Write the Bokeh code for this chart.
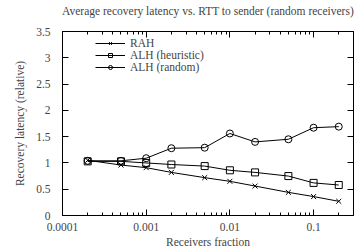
from bokeh.plotting import figure
from bokeh.models import (FixedTicker, CustomJSTickFormatter, LinearAxis, LogAxis,
                          Legend, Range1d)
from bokeh.embed import file_html
from bokeh.resources import INLINE

fractions = [0.0002, 0.0005, 0.001, 0.002, 0.005, 0.01, 0.02, 0.05, 0.1, 0.2]
rah = [1.05, 0.96, 0.91, 0.82, 0.72, 0.65, 0.56, 0.44, 0.36, 0.27]
alh_heur = [1.03, 1.03, 1.00, 0.97, 0.94, 0.86, 0.82, 0.75, 0.62, 0.58]
alh_rand = [1.04, 1.04, 1.09, 1.28, 1.29, 1.56, 1.40, 1.45, 1.67, 1.69]

x_major = [0.0001, 0.001, 0.01, 0.1]
y_major = [0, 0.5, 1, 1.5, 2, 2.5, 3, 3.5]
title_text = "Average recovery latency vs. RTT to sender (random receivers)"

FONT = "Liberation Serif"
FS = "11.5px"

x_minor = [m * d for d in x_major for m in range(2, 10) if m * d <= 0.3]

p = figure(frame_width=291, frame_height=184, x_axis_type="log",
           x_range=Range1d(0.0001, 0.3), y_range=Range1d(0, 3.5),
           output_backend="svg", toolbar_location=None,
           min_border_left=62, min_border_right=4, min_border_top=31,
           min_border_bottom=0)

p.grid.visible = False
p.outline_line_color = "black"
p.outline_line_width = 1
p.background_fill_color = "white"
p.border_fill_color = "white"

xt = FixedTicker(ticks=x_major, minor_ticks=x_minor)
yt = FixedTicker(ticks=y_major)
fmt = CustomJSTickFormatter(code="return tick.toString();")
blank = CustomJSTickFormatter(code="return '';")

def style(ax, labels=True):
    ax.axis_line_color = "black"
    ax.major_tick_line_color = "black"
    ax.minor_tick_line_color = "black"
    ax.major_tick_in = 6
    ax.major_tick_out = 0
    ax.minor_tick_in = 3
    ax.minor_tick_out = 0
    ax.major_label_text_font = FONT
    ax.axis_label_text_font = FONT
    ax.axis_label_text_font_style = "normal"
    ax.axis_label_text_font_size = FS
    if labels:
        ax.major_label_text_font_size = FS
    else:
        ax.major_label_text_font_size = "1px"
        ax.major_label_standoff = 0

xa = p.xaxis[0]
xa.ticker = xt
xa.formatter = fmt
xa.axis_label = "Receivers fraction"
style(xa)
xa.major_label_standoff = 7
xa.axis_label_standoff = 2

ya = p.yaxis[0]
ya.ticker = yt
ya.formatter = fmt
ya.axis_label = "Recovery latency (relative)"
style(ya)
ya.major_label_standoff = 12
ya.axis_label_standoff = 7

# mirrored ticks on the top border (gnuplot style); its label is the chart title
top = LogAxis(ticker=xt, formatter=blank, axis_label=title_text)
style(top, labels=False)
top.axis_label_standoff = 15
p.add_layout(top, "above")
right = LinearAxis(ticker=yt, formatter=blank)
style(right, labels=False)
p.add_layout(right, "right")

series = [("RAH", rah, "x"), ("ALH (heuristic)", alh_heur, "square"),
          ("ALH (random)", alh_rand, "circle")]
items = []
for name, vals, mk in series:
    ln = p.line(fractions, vals, line_color="black", line_width=1)
    sc = p.scatter(fractions, vals, marker=mk, size=7, line_color="black",
                   fill_color=None, line_width=1)
    items.append((name, [ln, sc]))

legend = Legend(items=items, location=(33, 142), padding=0, spacing=0,
                margin=0, label_height=10, glyph_height=10, glyph_width=30,
                label_standoff=5, border_line_color=None,
                background_fill_alpha=0, label_text_font=FONT,
                label_text_font_size=FS)
p.add_layout(legend, "center")

open("out.html", "w").write(file_html(p, INLINE))
